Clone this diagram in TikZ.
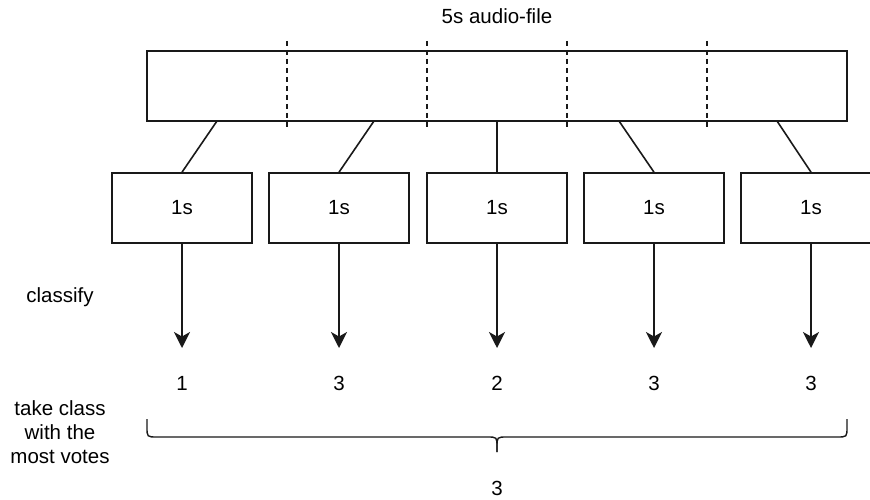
\documentclass[tikz,border=0pt]{standalone}
\usepackage{fontspec}
\setmainfont{Liberation Sans}
\usetikzlibrary{arrows.meta}
\begin{document}
\begin{tikzpicture}[x=1pt,y=-1pt,
  every node/.style={font=\fontsize{20.5}{24}\selectfont, text=black},
  ln/.style={line width=1.6pt, draw=black!90},
  segbox/.style={ln, minimum width=140pt, minimum height=70pt, inner sep=0pt, fill=white},
  cut/.style={line width=1.6pt, draw=black!90, dash pattern=on 5pt off 4pt},
  arr/.style={ln, -{Stealth[length=16pt,width=16pt,inset=4.5pt]}},
  lbl/.style={inner sep=0pt, align=center}]
\useasboundingbox (0,0) rectangle (870,500);
% main box
\node[ln, minimum width=700pt, minimum height=70pt, inner sep=0pt] (main) at (497,86) {};
\node[lbl] (title) at (497,16) {5s audio-file};
\foreach \x [count=\i] in {287,427,567,707}{
  \coordinate (ct\i) at (\x,41);
  \coordinate (cb\i) at (\x,130);
  \draw[cut] (ct\i) -- (cb\i);
}
% segment boxes
\foreach \x/\v [count=\i] in {182/1,339/3,497/2,654/3,811/3}{
  \node[segbox] (s\i) at (\x,208) {1s};
  \coordinate (e\i) at (\x,348);
  \node[lbl] (v\i) at (\x,383) {\v};
  \draw[arr] (s\i.south) -- (e\i);
}
\coordinate (t1) at (217,121);
\coordinate (t2) at (374,121);
\coordinate (t3) at (497,121);
\coordinate (t4) at (619,121);
\coordinate (t5) at (777,121);
\foreach \i in {1,...,5}{
  \draw[ln] (t\i) -- (s\i.north -| e\i);
}
% labels
\node[lbl] (classify) at (60,297) {classify};
\node[lbl] (take) at (60,432) {take class\\with the\\most votes};
% brace
\coordinate (bl) at (147,419);
\coordinate (br) at (847,419);
\coordinate (bm) at (497,452);
\draw[ln, line width=1.4pt] (bl) -- (147,427) .. controls (147,437) .. (157,437)
  -- (487,437) .. controls (497,437) .. (497,447) -- (bm);
\draw[ln, line width=1.4pt] (br) -- (847,427) .. controls (847,437) .. (837,437)
  -- (507,437) .. controls (497,437) .. (497,447) -- (bm);
\node[lbl] (res) at (497,488) {3};
\end{tikzpicture}
\end{document}
